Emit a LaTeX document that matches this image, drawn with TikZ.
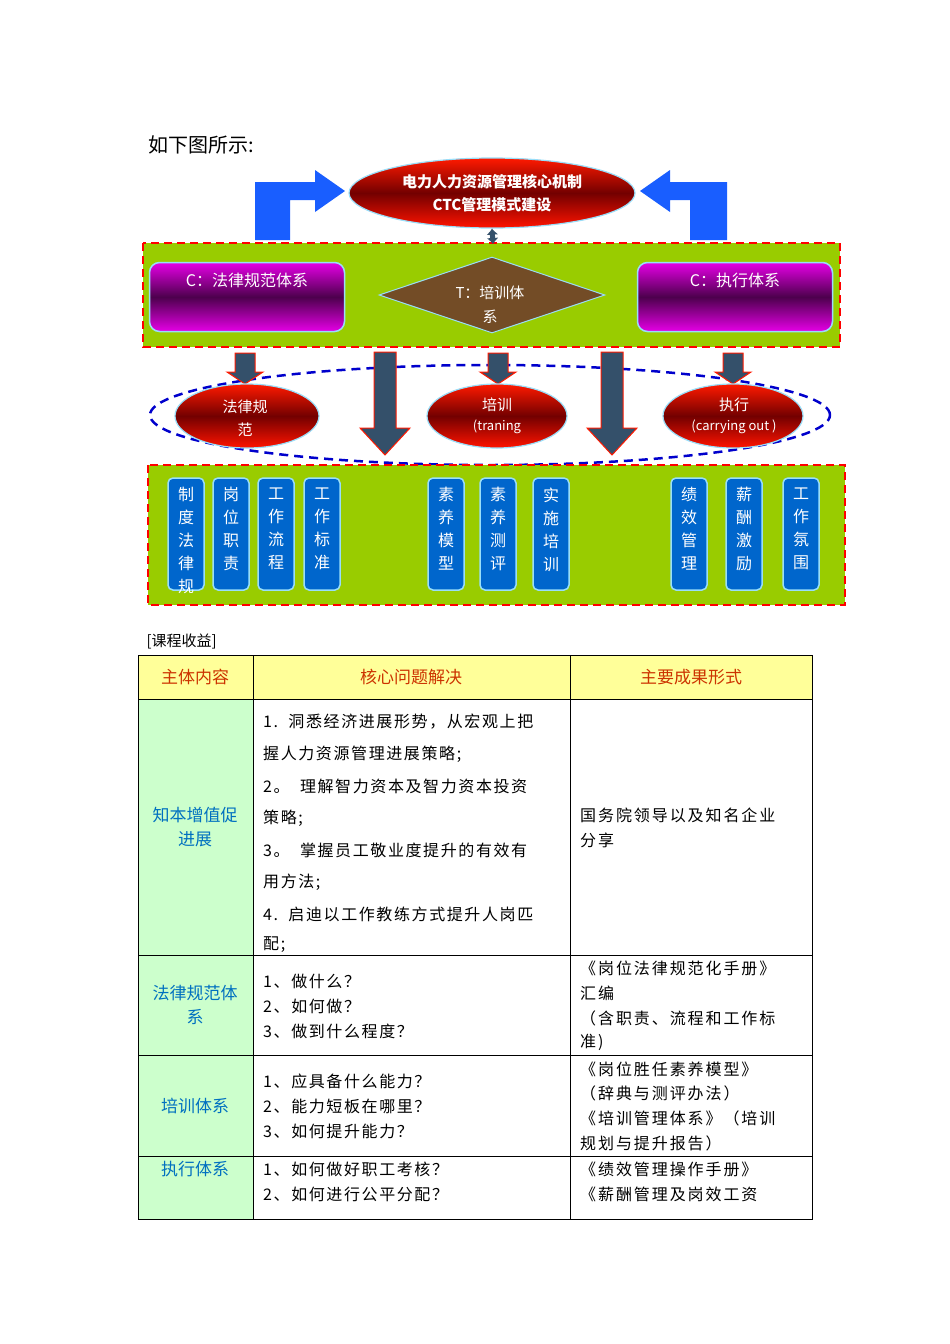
\documentclass[tikz,border=0pt]{standalone}
\usepackage{fontspec}
\setmainfont{Noto Sans CJK SC}
\usetikzlibrary{shapes.geometric,arrows.meta}
\definecolor{grn}{HTML}{99CC00}
\definecolor{bbox}{HTML}{0066CC}
\definecolor{hdr}{HTML}{FFFF99}
\definecolor{lg}{HTML}{CCFFCC}
\definecolor{hred}{HTML}{CC3300}
\definecolor{cblue}{HTML}{0070C0}
\definecolor{slate}{HTML}{34506A}
\tikzset{
 redell/.style={ellipse,draw=cyan!40,line width=1.2pt,top color=red!80!orange,bottom color=red!85!orange,middle color=red!45!black,text=white,inner sep=0pt},
 vbox/.style={draw=cyan!40,line width=1.5pt,fill=bbox,rounded corners=5pt,minimum width=36pt,minimum height=112pt,text=white,inner sep=0pt},
 purp/.style={draw=cyan!40,line width=1.5pt,rounded corners=10pt,top color=magenta!80!violet,bottom color=magenta!80!violet,middle color=violet!60!black,minimum width=195pt,minimum height=69pt},
 grnbox/.style={draw=red,line width=2pt,dash pattern=on 8pt off 5pt,fill=grn},
 bigarrow/.style={fill=slate,draw=red!80!orange,line width=1pt},
 cell/.style={font=\fontsize{16}{25}\selectfont,anchor=west,inner sep=0pt},
 hd/.style={font=\fontsize{17}{22}\selectfont,text=hred},
 fc/.style={font=\fontsize{17}{24}\selectfont,text=cblue,align=center}
}
\begin{document}
\begin{tikzpicture}[x=1pt,y=-1pt]
\useasboundingbox[fill=white] (0,0) rectangle (950,1344);
\node[anchor=west,font=\fontsize{20}{24}\selectfont] (title) at (145,145) {如下图所示:};
% bent arrows
\fill[blue!70!cyan!90!white] (255,240) -- (255,182) -- (315,182) -- (315,170) -- (345,191) -- (315,212) -- (315,200) -- (290,200) -- (290,240) -- cycle;
\fill[blue!70!cyan!90!white] (727,240) -- (727,182) -- (670,182) -- (670,170) -- (640,191) -- (670,212) -- (670,200) -- (690,200) -- (690,240) -- cycle;
\node[redell,minimum width=286pt,minimum height=70pt,align=center,font=\fontsize{15}{23}\selectfont\bfseries] (top) at (492,193) {电力人力资源管理核心机制\\CTC管理模式建设};
\draw[grnbox] (143,243) rectangle (840,347);
\coordinate (gtop) at (493,244);
\draw[{Latex[length=6pt,width=12pt]}-{Latex[length=6pt,width=12pt]},slate,line width=5pt] (top.south) -- (gtop);
\node[purp] (cl) at (247,297) {};
\node[text=white,font=\fontsize{16}{20}\selectfont] at (247,280) {C：法律规范体系};
\node[purp] (cr) at (735,297) {};
\node[text=white,font=\fontsize{16}{20}\selectfont] at (735,280) {C：执行体系};
\node[diamond,draw=cyan!40,line width=1pt,fill=brown!60!black,minimum width=226pt,minimum height=76pt,inner sep=0pt] (dm) at (492,295) {};
\node[text=white,font=\fontsize{15}{24}\selectfont,align=center] at (490,305) {T：培训体\\系};
% dashed ellipse
\draw[blue!80!black,line width=2.5pt,dash pattern=on 9pt off 6pt] (490,415) ellipse (340pt and 50pt);
% small arrows
\foreach \x in {245,498,733}{
 \draw[bigarrow] (\x-10,353) -- (\x+10,353) -- (\x+10,372) -- (\x+18,372) -- (\x,384) -- (\x-18,372) -- (\x-10,372) -- cycle;}
\foreach \x in {385,612}{
 \draw[bigarrow] (\x-11,352) -- (\x+11,352) -- (\x+11,428) -- (\x+25,428) -- (\x,455) -- (\x-25,428) -- (\x-11,428) -- cycle;}
\node[redell,minimum width=144pt,minimum height=64pt] (e1) at (247,416) {};
\node[text=white,font=\fontsize{15}{23}\selectfont,align=center] at (245,418) {法律规\\范};
\node[redell,minimum width=140pt,minimum height=64pt] (e2) at (497,416) {};
\node[text=white,font=\fontsize{15}{20}\selectfont] at (497,405) {培训};
\node[text=white,font=\fontsize{13}{16}\selectfont] at (497,427) {(traning};
\node[redell,minimum width=140pt,minimum height=64pt] (e3) at (733,416) {};
\node[text=white,font=\fontsize{15}{20}\selectfont] at (734,405) {执行};
\node[text=white,font=\fontsize{13}{16}\selectfont] at (734,427) {(carrying out )};
% bottom box
\draw[grnbox] (148,465) rectangle (845,605);
\foreach \x/\t [count=\i] in {186/制\\度\\法\\律\\规,231/岗\\位\\职\\责,276/工\\作\\流\\程,322/工\\作\\标\\准,446/素\\养\\模\\型,498/素\\养\\测\\评,551/实\\施\\培\\训,689/绩\\效\\管\\理,744/薪\\酬\\激\\励,801/工\\作\\氛\\围}{
 \node[vbox] (v\i) at (\x,534) {};
 \node[text=white,font=\fontsize{16}{23}\selectfont,align=center,anchor=north] at (\x,484) {\t};}
\node[anchor=west,font=\fontsize{15}{18}\selectfont] (cap) at (143,641) {[课程收益]};
% table
\fill[hdr] (138,655) rectangle (812,699);
\fill[lg] (138,699) rectangle (253,1219);
\draw[line width=0.8pt] (138,655) rectangle (812,1219);
\foreach \y in {699,955,1055,1156} \draw[line width=0.8pt] (138,\y) -- (812,\y);
\foreach \x in {253,570} \draw[line width=0.8pt] (\x,655) -- (\x,1219);
\node[hd] (h1) at (195,677) {主体内容};
\node[hd] (h2) at (411,677) {核心问题解决};
\node[hd] (h3) at (691,677) {主要成果形式};
\node[fc] (f1) at (195,827) {知本增值促\\进展};
\node[fc] (f2) at (195,1005) {法律规范体\\系};
\node[fc] (f3) at (195,1106) {培训体系};
\node[fc] (f4) at (195,1169) {执行体系};
\foreach \y/\t in {722/{1.\ \ 洞悉经济进展形势，从宏观上把},754/{握人力资源管理进展策略;},786/{2。\ \ 理解智力资本及智力资本投资},818/{策略;},850/{3。\ \ 掌握员工敬业度提升的有效有},882/{用方法;},914/{4.\ \ 启迪以工作教练方式提升人岗匹},945/{配;},
 981/{1、做什么？},1006/{2、如何做？},1031/{3、做到什么程度？},
 1081/{1、应具备什么能力？},1106/{2、能力短板在哪里？},1131/{3、如何提升能力？},
 1169/{1、如何做好职工考核？},1194/{2、如何进行公平分配？}}
 \node[cell,font=\fontsize{16}{25}\selectfont\addfontfeature{LetterSpace=10}] at (263,\y) {\t};
\foreach \y/\t in {815/{国务院领导以及知名企业},840/{分享},968/{《岗位法律规范化手册》},993/{汇编},1018/{（含职责、流程和工作标},1042/{准)},1069/{《岗位胜任素养模型》},1093/{（辞典与测评办法）},1118/{《培训管理体系》（培训},1143/{规划与提升报告）},1169/{《绩效管理操作手册》},1194/{《薪酬管理及岗效工资}}
 \node[cell,font=\fontsize{16}{25}\selectfont\addfontfeature{LetterSpace=12}] at (580,\y) {\t};
\end{tikzpicture}
\end{document}
